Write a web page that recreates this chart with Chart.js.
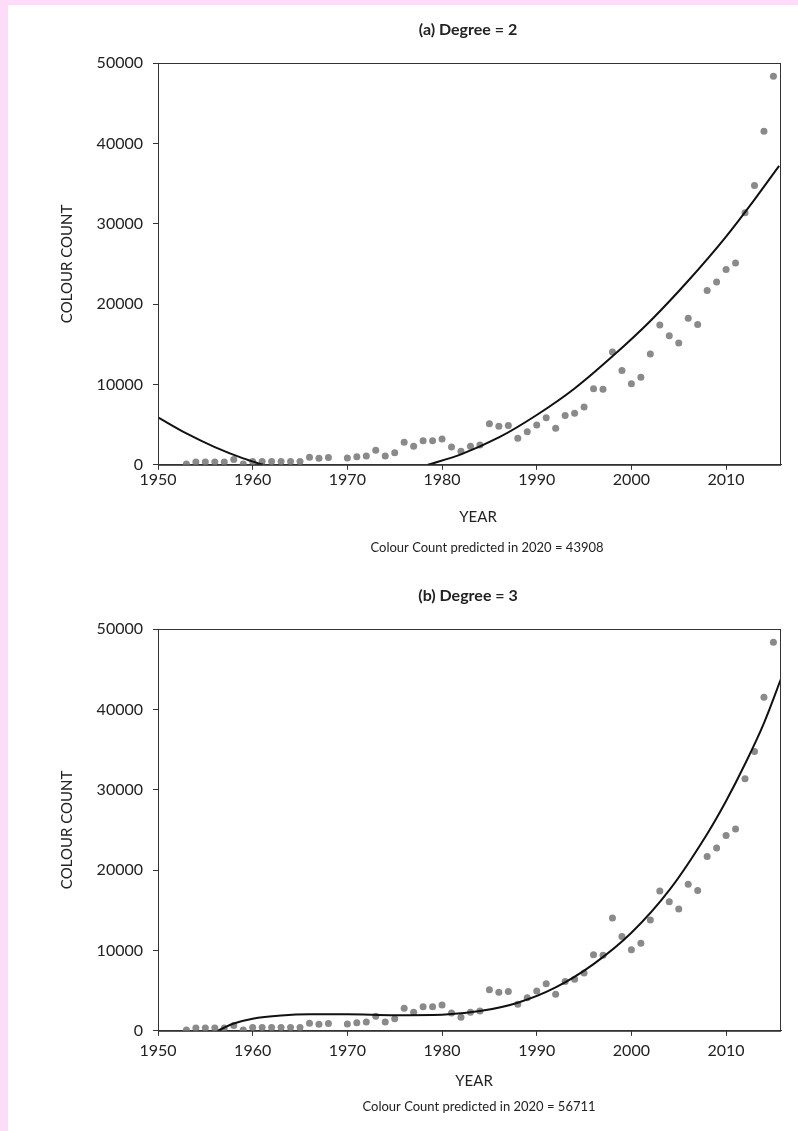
<!DOCTYPE html>
<html>
<head>
<meta charset="utf-8">
<script src="https://cdn.jsdelivr.net/npm/chart.js@4.4.1/dist/chart.umd.min.js"></script>
<style>
  html, body { margin: 0; padding: 0; background: #fcdcf8; }
  #page { position: absolute; left: 8px; top: 5px; width: 790px; height: 1126px; background: #fff; }
  .box { position: absolute; left: 0; width: 798px; }
  #box1 { top: 0; height: 566px; }
  #box2 { top: 566px; height: 565px; }
</style>
</head>
<body>
<div id="page"></div>
<div class="box" id="box1"><canvas id="chart1" width="798" height="566"></canvas></div>
<div class="box" id="box2"><canvas id="chart2" width="798" height="565"></canvas></div>
<script>
// observed colour counts per year (1969 has no point)
const years = [1953, 1954, 1955, 1956, 1957, 1958, 1959, 1960, 1961, 1962, 1963, 1964, 1965, 1966, 1967, 1968,
  1970, 1971, 1972, 1973, 1974, 1975, 1976, 1977, 1978, 1979, 1980, 1981, 1982, 1983, 1984, 1985, 1986, 1987,
  1988, 1989, 1990, 1991, 1992, 1993, 1994, 1995, 1996, 1997, 1998, 1999, 2000, 2001, 2002, 2003, 2004, 2005,
  2006, 2007, 2008, 2009, 2010, 2011, 2012, 2013, 2014, 2015];
const counts = [100, 350, 350, 350, 350, 650, 100, 400, 400, 400, 400, 400, 400, 950, 800, 900,
  850, 1000, 1100, 1800, 1100, 1500, 2800, 2300, 3000, 3000, 3200, 2200, 1700, 2300, 2450, 5100, 4800, 4900,
  3300, 4100, 4950, 5850, 4550, 6150, 6400, 7200, 9450, 9400, 14050, 11750, 10100, 10900, 13800, 17400, 16050, 15150,
  18250, 17450, 21700, 22750, 24300, 25100, 31350, 34750, 41500, 48350];

// fitted curves (null = curve below the axis, not visible)
const fit2Years = [1950, 1953, 1956, 1959, 1961.1, 1970, 1978.5, 1982, 1986, 1990, 1994, 1998, 2002, 2006, 2010, 2013, 2015.6];
const fit2Counts = [5900, 3900, 2200, 800, 0, null, 0, 1300, 3400, 6200, 9500, 13500, 17900, 22900, 28400, 33000, 37200];

const fit3Years = [1956.3, 1958, 1960, 1963, 1966, 1970, 1975, 1980, 1984, 1988, 1992, 1996, 2000, 2004, 2008, 2010, 2012, 2014, 2015.8];
const fit3Counts = [0, 900, 1500, 1900, 2050, 2050, 1950, 2000, 2450, 3500, 5400, 8300, 12200, 17500, 24500, 28600, 33200, 38300, 43800];

const xTicks = [1950, 1960, 1970, 1980, 1990, 2000, 2010];
const yTicks = [0, 10000, 20000, 30000, 40000, 50000];

const FONT = "Lato, 'Open Sans', sans-serif";
const TEXT = "#222";
const AXIS = "#333";

function toPoints(xs, ys) {
  return xs.map((x, i) => ({ x: x, y: ys[i] }));
}

// box round the plot area (top and right edges have no ticks)
const frame = {
  id: "frame",
  afterDatasetsDraw(chart) {
    const a = chart.chartArea;
    const ctx = chart.ctx;
    ctx.save();
    ctx.strokeStyle = AXIS;
    ctx.lineWidth = 1;
    ctx.strokeRect(a.left + 0.5, a.top + 0.5, a.right - a.left - 1, a.bottom - a.top);
    ctx.restore();
  }
};

// title, x-axis name and prediction line, placed like the original figure
const captions = {
  id: "captions",
  afterDraw(chart, args, opts) {
    const ctx = chart.ctx;
    ctx.save();
    ctx.fillStyle = TEXT;
    ctx.textAlign = "center";
    ctx.textBaseline = "middle";
    opts.items.forEach(it => {
      ctx.font = it.font;
      ctx.fillText(it.text, it.x, it.y);
    });
    ctx.restore();
  }
};

function makeChart(id, title, prediction, fitX, fitY, lay) {
  const ctx = document.getElementById(id).getContext("2d");
  return new Chart(ctx, {
    type: "scatter",
    data: {
      datasets: [
        {
          label: "fit",
          data: toPoints(fitX, fitY),
          showLine: true,
          borderColor: "#111",
          borderWidth: 2,
          pointRadius: 0,
          cubicInterpolationMode: "monotone",
          spanGaps: false
        },
        {
          label: "count",
          data: toPoints(years, counts),
          backgroundColor: "#8a8a8a",
          borderColor: "#8a8a8a",
          borderWidth: 0,
          pointRadius: 3.5
        }
      ]
    },
    options: {
      responsive: false,
      animation: false,
      layout: { padding: { left: 50, right: 17, top: 63, bottom: lay.bottom } },
      plugins: {
        legend: { display: false },
        tooltip: { enabled: false },
        captions: {
          items: [
            { text: title, x: 468, y: 30, font: "bold 16px " + FONT },
            { text: "YEAR", x: lay.yearX, y: lay.yearY, font: "15px " + FONT },
            { text: prediction, x: lay.predX, y: lay.predY, font: "13px " + FONT }
          ]
        }
      },
      scales: {
        x: {
          type: "linear",
          min: 1950,
          max: 2015.8,
          afterBuildTicks: (scale) => { scale.ticks = xTicks.map(v => ({ value: v })); },
          ticks: {
            color: TEXT,
            font: { family: FONT, size: 16 },
            padding: lay.xTickPad,
            maxRotation: 0,
            callback: (v) => String(v)
          },
          grid: { drawOnChartArea: false, tickLength: 5, color: AXIS },
          border: { color: AXIS }
        },
        y: {
          min: 0,
          max: 50000,
          afterBuildTicks: (scale) => { scale.ticks = yTicks.map(v => ({ value: v })); },
          afterFit: (scale) => { scale.width = 108; },
          ticks: {
            color: TEXT,
            font: { family: FONT, size: 16 },
            padding: 10,
            callback: (v) => String(v)
          },
          grid: { drawOnChartArea: false, tickLength: 5, color: AXIS },
          border: { color: AXIS },
          title: {
            display: true,
            text: "COLOUR COUNT",
            color: TEXT,
            font: { family: FONT, size: 15 },
            padding: { top: 8, bottom: 0 }
          }
        }
      }
    },
    plugins: [frame, captions]
  });
}

makeChart("chart1", "(a) Degree = 2", "Colour Count predicted in 2020 = 43908", fit2Years, fit2Counts,
  { bottom: 77, xTickPad: 0, yearX: 478, yearY: 517, predX: 487, predY: 548 });
makeChart("chart2", "(b) Degree = 3", "Colour Count predicted in 2020 = 56711", fit3Years, fit3Counts,
  { bottom: 66, xTickPad: 5, yearX: 474, yearY: 515, predX: 479, predY: 541 });
</script>
</body>
</html>
